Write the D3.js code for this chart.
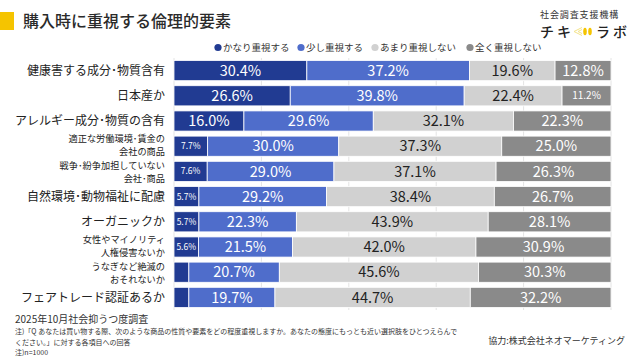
<!DOCTYPE html>
<html><head><meta charset="utf-8">
<script src="https://cdn.jsdelivr.net/npm/d3@7"></script>
<style>body{margin:0;background:#fff}svg{display:block}text{font-family:"Noto Sans CJK JP","Noto Sans",sans-serif}</style>
</head><body><svg id="c" width="640" height="360"></svg>
<script>
const categories = [
  ["健康害する成分･物質含有"],
  ["日本産か"],
  ["アレルギー成分･物質の含有"],
  ["適正な労働環境･賃金の","会社の商品"],
  ["戦争･紛争加担していない","会社･商品"],
  ["自然環境･動物福祉に配慮"],
  ["オーガニックか"],
  ["女性やマイノリティ","人権侵害ないか"],
  ["うなぎなど絶滅の","おそれないか"],
  ["フェアトレード認証あるか"]
];
const seriesNames = ["かなり重視する","少し重視する","あまり重視しない","全く重視しない"];
const veryImportant = [30.4,26.6,16.0,7.7,7.6,5.7,5.7,5.6,3.4,3.4];
const somewhat      = [37.2,39.8,29.6,30.0,29.0,29.2,22.3,21.5,20.7,19.7];
const notMuch       = [19.6,22.4,32.1,37.3,37.1,38.4,43.9,42.0,45.6,44.7];
const notAtAll      = [12.8,11.2,22.3,25.0,26.3,26.7,28.1,30.9,30.3,32.2];
const xTicks = [0,20,40,60,80,100];

const colors = ["#213b92","#4f6dcb","#d1d1d1","#8a8a8a"];
const textColors = ["#fff","#fff","#222","#fff"];
const svg = d3.select("#c");

// title
svg.append("rect").attr("x",0).attr("y",12).attr("width",14).attr("height",18).attr("fill","#f5c400");
svg.append("text").attr("x",23).attr("y",27).attr("font-size",16).attr("font-weight",500).attr("fill","#2a2a2a").text("購入時に重視する倫理的要素");

// logo
svg.append("text").attr("x",540).attr("y",18).attr("font-size",9).attr("letter-spacing",0.9).attr("fill","#333").text("社会調査支援機構");
svg.append("text").attr("x",540).attr("y",37).attr("font-size",14).attr("font-weight",500).attr("letter-spacing",3).attr("fill","#222").text("チキ");
svg.append("text").attr("x",596).attr("y",37).attr("font-size",14).attr("font-weight",500).attr("letter-spacing",3).attr("fill","#222").text("ラボ");
const lg = svg.append("g").attr("transform","translate(574,31.5)");
lg.append("path").attr("d","M8,-4 L0,0 L8,4 M8,-2 L4,0 L8,2").attr("stroke","#f3e38a").attr("fill","none").attr("stroke-width",1);
lg.append("ellipse").attr("cx",11).attr("cy",0).attr("rx",1.8).attr("ry",3.8).attr("fill","#f5c400");
lg.append("ellipse").attr("cx",16).attr("cy",0).attr("rx",1.8).attr("ry",3.8).attr("fill","#f5c400");

// scales
const x = d3.scaleLinear().domain([0,100]).range([174,611]);
const y = d3.scaleBand().domain(d3.range(categories.length)).range([58,310]).paddingInner(0.2).paddingOuter(0.1);

// grid
svg.append("g").selectAll("line").data(xTicks).join("line")
  .attr("x1",d=>x(d)).attr("x2",d=>x(d)).attr("y1",y.range()[0]).attr("y2",y.range()[1])
  .attr("stroke","#e4e4e4").attr("stroke-width",1);

// legend
const legendX = [214,297,371,466];
const leg = svg.append("g");
seriesNames.forEach((n,i)=>{
  leg.append("circle").attr("cx",legendX[i]+4).attr("cy",47.5).attr("r",3.6).attr("fill",colors[i]);
  leg.append("text").attr("x",legendX[i]+9).attr("y",51).attr("font-size",9.5).attr("fill","#333").text(n);
});

// stacked data
const series = [veryImportant,somewhat,notMuch,notAtAll];
const rows = categories.map((c,i)=>{
  let acc=0; return series.map((s,k)=>{const v=s[i]; const o={row:i,k,v,x0:acc,x1:acc+v}; acc+=v; return o;});
});
const g = svg.append("g");
rows.flat().forEach(d=>{
  g.append("rect").attr("x",x(d.x0)).attr("y",y(d.row)).attr("width",x(d.x1)-x(d.x0)).attr("height",y.bandwidth())
    .attr("fill",colors[d.k]).attr("stroke","#fff").attr("stroke-width",0.8);
  if (d.v < 5) return;
  const fs = d.v < 10 ? 8.5 : (d.v < 12 ? 10 : 14.5);
  g.append("text").attr("x",(x(d.x0)+x(d.x1))/2).attr("y",y(d.row)+y.bandwidth()/2).attr("dy","0.36em")
    .attr("text-anchor","middle").attr("font-family","'Noto Sans','DejaVu Sans',sans-serif").attr("font-size",fs).attr("fill",textColors[d.k])
    .text(d.v.toFixed(1)+"%");
});

// category labels
categories.forEach((lines,i)=>{
  const cy = y(i)+y.bandwidth()/2;
  if (lines.length===1){
    svg.append("text").attr("x",165).attr("y",cy).attr("dy","0.36em").attr("text-anchor","end").attr("font-size",12).attr("fill","#222").text(lines[0]);
  } else {
    let shift = 0;
    if (categories[i+1] && categories[i+1].length>1) shift -= 1;
    if (categories[i-1] && categories[i-1].length>1) shift += 1;
    lines.forEach((l,j)=>svg.append("text").attr("x",165).attr("y",cy+shift+(j===0?-6.7:6.7)).attr("dy","0.36em")
      .attr("text-anchor","end").attr("font-size",9.2).attr("fill","#222").text(l));
  }
});

// footer
svg.append("text").attr("x",15).attr("y",323).attr("font-size",10).attr("fill","#333").text("2025年10月社会抑うつ度調査");
const notes = ["注)「Q あなたは買い物する際、次のような商品の性質や要素をどの程度重視しますか。あなたの態度にもっとも近い選択肢をひとつえらんで","ください。」に対する各項目への回答","注)n=1000"];
notes.forEach((t,i)=>svg.append("text").attr("x",15).attr("y",334+i*10.5).attr("font-size",7).attr("fill","#333").text(t));
svg.append("text").attr("x",625).attr("y",344).attr("text-anchor","end").attr("font-size",9).attr("fill","#333").text("協力:株式会社ネオマーケティング");
</script></body></html>
